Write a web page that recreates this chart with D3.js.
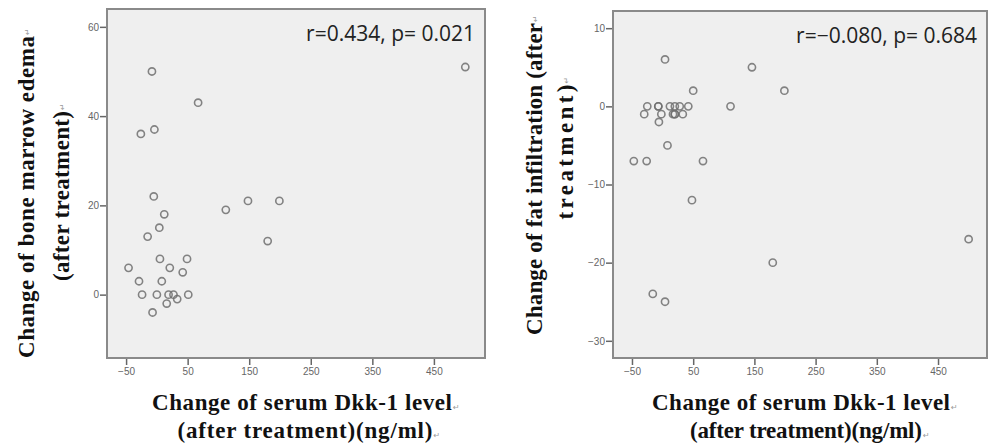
<!DOCTYPE html>
<html>
<head>
<meta charset="utf-8">
<script src="https://cdn.jsdelivr.net/npm/d3@7"></script>
<style>
  html, body { margin:0; padding:0; background:#fff; }
  svg { display:block; }
</style>
</head>
<body>
<svg id="chart" width="989" height="448"></svg>
<script>
/* ── data ── */
// left: Dkk-1 change vs bone marrow edema change
const edemaX = [-8, 67, -26, -4, 501, -5, 12, 4, -15, 112, 148, 199, 180, 5, 49, -46, 21, 42, -29, 8, -24, 0, 19, 27, 51, 16, 33, -7];
const edemaY = [50, 43, 36, 37, 51, 22, 18, 15, 13, 19, 21, 21, 12, 8, 8, 6, 6, 5, 3, 3, 0, 0, 0, 0, 0, -2, -1, -4];

// right: Dkk-1 change vs fat infiltration change
const fatX = [4, 146, 50, 199, 111, -25, -7, -7, 12, 20, 28, 42, -30, -2, 17, 20, 20, 33, -6, 8, -47, -26, 66, 48, 500, 180, -16, 4];
const fatY = [6, 5, 2, 2, 0, 0, 0, 0, 0, 0, 0, 0, -1, -1, -1, -1, -1, -1, -2, -5, -7, -7, -7, -12, -17, -20, -24, -25];

const xTicks = [-50, 50, 150, 250, 350, 450];
const edemaTicks = [0, 20, 40, 60];
const fatTicks = [-30, -20, -10, 0, 10];

const edemaStat = 'r=0.434, p= 0.021';
const fatStat = 'r=\u22120.080, p= 0.684';

const xTitle = ['Change of serum Dkk-1 level', '(after treatment)(ng/ml)'];
const edemaTitle = ['Change of bone marrow edema', '(after treatment)'];
const fatTitle = ['Change of fat infiltration (after', 'treatment)'];

/* ── panels ── */
const panels = [
  { xs: edemaX, ys: edemaY, yTicks: edemaTicks, yDom: [-14.2, 64], xDom: [-81, 533], stat: edemaStat, yTitle: edemaTitle,
    box: { l: 107, t: 9, r: 485, b: 358 },
    yt: [ { x: 26, y: 197, len: 322 }, { x: 61, y: 196, len: 170 } ],
    xt: [ { x: 302, y: 410, len: 300 }, { x: 305, y: 438, len: 255 } ] },
  { xs: fatX, ys: fatY, yTicks: fatTicks, yDom: [-32.2, 12.2], xDom: [-81, 530], stat: fatStat, yTitle: fatTitle,
    box: { l: 613, t: 11, r: 987, b: 358 },
    yt: [ { x: 534, y: 179, len: 312 }, { x: 565, y: 152, len: 135 } ],
    xt: [ { x: 801, y: 410, len: 298 }, { x: 806, y: 438, len: 232 } ] },
];

const svg = d3.select('#chart');
const SERIF = "'Liberation Serif', 'DejaVu Serif', serif";

// paragraph mark (Word's ↵), placed just after a title line
function mark(g, x, y, rot) {
  g.append('text')
    .attr('transform', `translate(${x},${y})` + (rot ? ' rotate(-90)' : ''))
    .attr('font-family', "'DejaVu Sans', sans-serif")
    .attr('font-size', 8)
    .attr('fill', '#9a9a9a')
    .text('\u21B5');
}

panels.forEach(p => {
  const b = p.box;
  const x = d3.scaleLinear().domain(p.xDom).range([b.l, b.r]);
  const y = d3.scaleLinear().domain(p.yDom).range([b.b, b.t]);
  const g = svg.append('g');

  // plot area
  g.append('rect')
    .attr('x', b.l).attr('y', b.t)
    .attr('width', b.r - b.l).attr('height', b.b - b.t)
    .attr('fill', '#efefef')
    .attr('stroke', '#8a8a8a').attr('stroke-width', 2);

  // axes
  const xAxis = d3.axisBottom(x).tickValues(xTicks).tickSize(6).tickPadding(3);
  const yAxis = d3.axisLeft(y).tickValues(p.yTicks).tickSize(6).tickPadding(1);

  const gx = g.append('g').attr('transform', `translate(0,${b.b + 1})`).call(xAxis);
  const gy = g.append('g').attr('transform', `translate(${b.l - 1},0)`).call(yAxis);
  [gx, gy].forEach(a => {
    a.select('.domain').remove();
    a.selectAll('line').attr('stroke', '#666').attr('stroke-width', 1.5);
    a.selectAll('text')
      .attr('fill', '#666')
      .attr('font-family', "'Liberation Sans', Arial, sans-serif")
      .attr('font-size', 10);
  });

  // points
  g.append('g').selectAll('circle')
    .data(p.xs.map((v, i) => [v, p.ys[i]]))
    .join('circle')
    .attr('cx', d => x(d[0]))
    .attr('cy', d => y(d[1]))
    .attr('r', 3.6)
    .attr('fill', 'none')
    .attr('stroke', '#6f6f6f')
    .attr('stroke-opacity', 0.85)
    .attr('stroke-width', 1.6);

  // r / p label
  g.append('text')
    .attr('x', b.r - 10).attr('y', b.t + 32)
    .attr('text-anchor', 'end')
    .attr('font-family', "'Open Sans', 'Noto Sans', sans-serif")
    .attr('font-size', 21)
    .attr('fill', '#222')
    .text(p.stat);

  // y title (rotated)
  p.yTitle.forEach((t, i) => {
    const pos = p.yt[i];
    g.append('text')
      .attr('transform', `translate(${pos.x},${pos.y}) rotate(-90)`)
      .attr('text-anchor', 'middle')
      .attr('dominant-baseline', 'central')
      .attr('font-family', SERIF)
      .attr('font-weight', 700)
      .attr('font-size', 23)
      .attr('fill', '#111')
      .attr('textLength', pos.len)
      .attr('lengthAdjust', 'spacing')
      .text(t);
    mark(g, pos.x + 4, pos.y - pos.len / 2 - 1, true);
  });

  // x title
  xTitle.forEach((t, i) => {
    const pos = p.xt[i];
    g.append('text')
      .attr('x', pos.x).attr('y', pos.y)
      .attr('text-anchor', 'middle')
      .attr('font-family', SERIF)
      .attr('font-weight', 700)
      .attr('font-size', 23)
      .attr('fill', '#111')
      .attr('textLength', pos.len)
      .attr('lengthAdjust', 'spacing')
      .text(t);
    mark(g, pos.x + pos.len / 2 + 1, pos.y, false);
  });
});
</script>
</body>
</html>
